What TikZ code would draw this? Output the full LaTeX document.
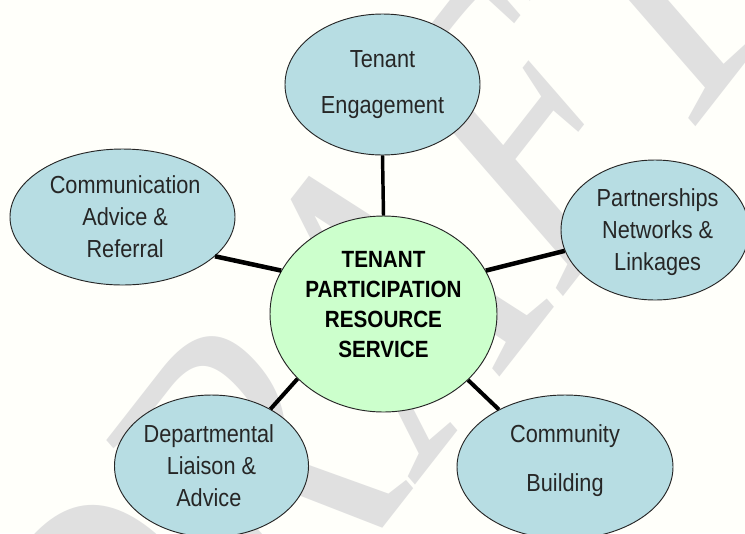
\documentclass[tikz,border=0pt]{standalone}
\usepackage{fontspec}
\setmainfont[FakeStretch=0.88]{Liberation Sans}
\newfontfamily\wmfont{Liberation Serif}
\usetikzlibrary{shapes.geometric}
\definecolor{pagebg}{HTML}{FFFFFA}
\definecolor{wmgrey}{HTML}{E0E0E0}
\definecolor{outerfill}{HTML}{B7DDE3}
\definecolor{innerfill}{HTML}{CCFFCC}
\newcommand{\nudge}{\hspace*{4pt}}
\tikzset{
  bubble/.style={ellipse,draw=black!85,line width=0.7pt,inner sep=0pt,align=center,font=\fontsize{18.5}{24}\selectfont,text=black!85},
  outerbubble/.style={bubble,fill=outerfill},
  hub/.style={bubble,fill=innerfill,font=\fontsize{17.6}{22.5}\selectfont\bfseries,text=black},
  link/.style={draw=black,line width=#1},
  watermark/.style={transform shape,text=wmgrey,font=\wmfont\fontsize{240}{240}\selectfont,inner sep=0pt}
}
\begin{document}
\begin{tikzpicture}[x=0.75pt,y=-0.75pt]
\fill[pagebg] (0,0) rectangle (745,533);
\useasboundingbox (0,0) rectangle (745,533);
\begin{scope}
\clip (0,0) rectangle (745,533);
\begin{scope}[shift={(372,320)},cm={0.616,0.788,-0.866,0.996,(0,0)}]
\node[watermark] (wm) at (0,0) {DRAFT};
\end{scope}
\end{scope}
\node[hub,minimum width=170.25pt,minimum height=147pt] (hub) at (383.5,314) {TENANT\\PARTICIPATION\\RESOURCE\\SERVICE\rule[-15pt]{0pt}{15pt}};
\begin{scope}
\clip (0,0) rectangle (745,533);
\node[outerbubble,minimum width=146.25pt,minimum height=105.75pt,font=\fontsize{18.5}{34}\selectfont] (top) at (382.5,84.5) {Tenant\\Engagement};
\node[outerbubble,minimum width=141pt,minimum height=105pt] (right) at (655,230) {\rule{0pt}{16pt}\nudge Partnerships\\\nudge Networks \&\\\nudge Linkages};
\node[outerbubble,minimum width=168.75pt,minimum height=102pt] (left) at (122.5,217) {\nudge Communication\\\nudge Advice \&\\\nudge Referral};
\node[outerbubble,minimum width=145.5pt,minimum height=106.5pt] (bl) at (211.5,466) {Departmental\nudge\\Liaison \&\nudge\\Advice\nudge};
\node[outerbubble,minimum width=162pt,minimum height=108pt,font=\fontsize{18.5}{37}\selectfont] (br) at (565,467) {Community\\Building\rule[-13.5pt]{0pt}{13.5pt}};
\end{scope}
\draw[link=2.6pt] (hub.90) -- (top.270);
\draw[link=3.4pt] (hub.157.7) -- (left.-23.4);
\draw[link=3.4pt] (hub.23) -- (right.193.7);
\draw[link=3pt] (hub.217.3) -- (bl.44.7);
\draw[link=3pt] (hub.-38.3) -- (br.139);
\end{tikzpicture}
\end{document}
